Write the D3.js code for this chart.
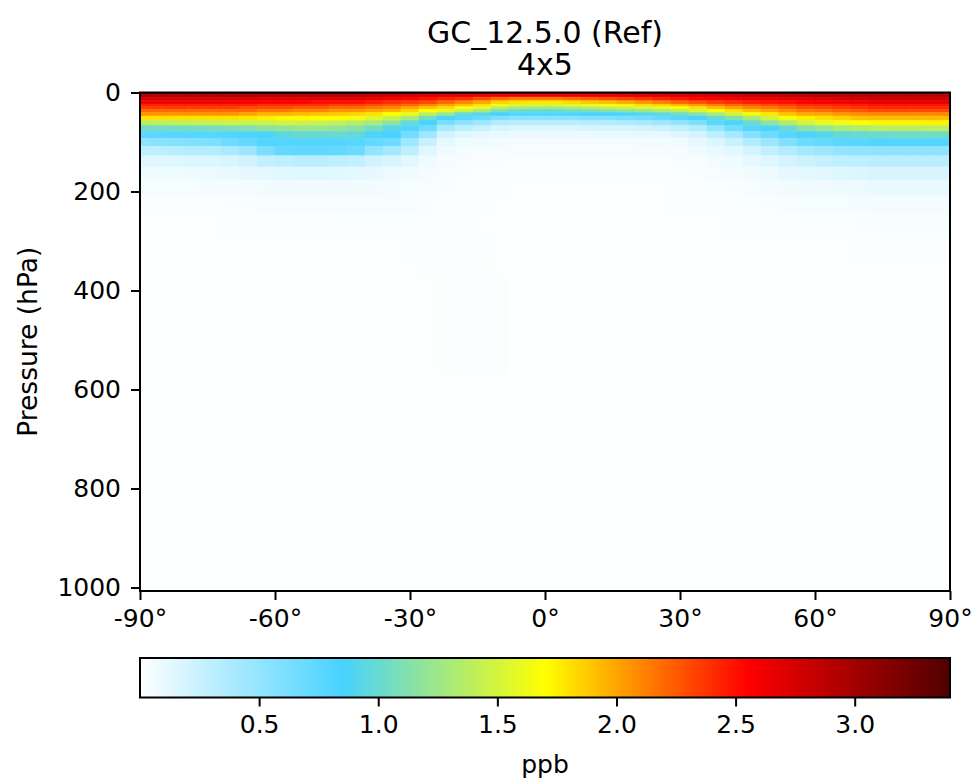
<!DOCTYPE html>
<html lang="en">
<head>
<meta charset="UTF-8" />
<title>GC_12.5.0 (Ref) zonal mean</title>
<script src="https://cdn.jsdelivr.net/npm/d3@7"></script>
<style>
    body { margin: 0; background: #fff; }
    text { font-family: "DejaVu Sans", sans-serif; fill: #000; }
    .tick text { font-size: 25px; }
    .tick line { stroke: #000; stroke-width: 2px; }
</style>
</head>
<body>
<svg id="chart" width="976" height="783"></svg>
<script>
// latitude cell edges of the 4x5 grid (half boxes at the poles)
const latEdges = [-90, -88, -84, -80, -76, -72, -68, -64, -60, -56, -52, -48, -44, -40, -36, -32, -28, -24,
    -20, -16, -12, -8, -4, 0, 4, 8, 12, 16, 20, 24, 28, 32, 36, 40, 44, 48, 52, 56, 60, 64, 68, 72, 76, 80,
    84, 88, 90];

// pressure edges of the drawn levels (hPa, top to bottom)
const presEdges = [0, 4, 9.3, 16.5, 23.7, 28.4, 33.8, 40.2, 47.6, 56.4, 66.6, 78.5, 92.4, 108.7, 127.8,
    150.4, 176.9, 208.2, 244.9, 288.9, 339.0, 377.1, 567.7, 682.2, 707.7, 733.2, 1007];

// zonal mean concentration (ppb), one profile per latitude cell, top level first
const zonalMean = [
    [3.25, 2.95, 2.75, 2.6, 2.45, 2.35, 2.2, 2.05, 1.8, 1.38, 1.03, 0.75, 0.52, 0.3, 0.15, 0.08, 0.045, 0.025, 0.015, 0.01, 0.008, 0.006, 0.005, 0.005, 0.005, 0.004], // -89
    [3.25, 2.95, 2.75, 2.6, 2.45, 2.35, 2.2, 2.05, 1.8, 1.4, 1.05, 0.76, 0.54, 0.31, 0.15, 0.08, 0.045, 0.025, 0.015, 0.01, 0.008, 0.006, 0.005, 0.005, 0.005, 0.004], // -86
    [3.25, 2.95, 2.75, 2.6, 2.45, 2.35, 2.2, 2.05, 1.8, 1.42, 1.05, 0.77, 0.56, 0.33, 0.16, 0.08, 0.045, 0.025, 0.015, 0.01, 0.008, 0.006, 0.005, 0.005, 0.005, 0.004], // -82
    [3.25, 2.95, 2.75, 2.6, 2.45, 2.35, 2.2, 2.05, 1.8, 1.42, 1.06, 0.78, 0.58, 0.35, 0.17, 0.085, 0.045, 0.025, 0.015, 0.01, 0.008, 0.006, 0.005, 0.005, 0.005, 0.004], // -78
    [3.25, 2.95, 2.75, 2.6, 2.45, 2.35, 2.2, 2.05, 1.8, 1.43, 1.08, 0.78, 0.6, 0.36, 0.17, 0.09, 0.05, 0.025, 0.015, 0.01, 0.008, 0.006, 0.005, 0.005, 0.005, 0.004], // -74
    [3.2, 2.95, 2.75, 2.6, 2.45, 2.35, 2.2, 2.05, 1.8, 1.45, 1.1, 0.8, 0.68, 0.4, 0.19, 0.1, 0.05, 0.03, 0.018, 0.012, 0.009, 0.006, 0.005, 0.005, 0.005, 0.004], // -70
    [3.2, 2.95, 2.75, 2.55, 2.45, 2.3, 2.2, 2.0, 1.78, 1.45, 1.12, 0.82, 0.72, 0.46, 0.22, 0.11, 0.055, 0.03, 0.018, 0.012, 0.009, 0.006, 0.005, 0.005, 0.005, 0.004], // -66
    [3.2, 2.9, 2.7, 2.55, 2.4, 2.3, 2.15, 1.95, 1.75, 1.45, 1.18, 0.88, 0.8, 0.62, 0.28, 0.13, 0.065, 0.035, 0.018, 0.012, 0.009, 0.006, 0.005, 0.005, 0.005, 0.004], // -62
    [3.2, 2.9, 2.7, 2.55, 2.4, 2.3, 2.15, 1.95, 1.72, 1.48, 1.2, 0.95, 0.8, 0.72, 0.3, 0.14, 0.07, 0.035, 0.018, 0.012, 0.009, 0.006, 0.005, 0.005, 0.005, 0.004], // -58
    [3.2, 2.9, 2.7, 2.55, 2.4, 2.25, 2.1, 1.92, 1.72, 1.48, 1.22, 1.0, 0.8, 0.74, 0.32, 0.15, 0.07, 0.035, 0.018, 0.012, 0.009, 0.006, 0.005, 0.005, 0.005, 0.004], // -54
    [3.2, 2.9, 2.7, 2.5, 2.4, 2.25, 2.1, 1.9, 1.7, 1.45, 1.22, 1.0, 0.8, 0.74, 0.32, 0.15, 0.07, 0.035, 0.018, 0.012, 0.009, 0.006, 0.005, 0.005, 0.005, 0.004], // -50
    [3.2, 2.9, 2.7, 2.5, 2.35, 2.2, 2.05, 1.88, 1.7, 1.42, 1.2, 1.0, 0.8, 0.72, 0.3, 0.14, 0.07, 0.045, 0.018, 0.012, 0.009, 0.006, 0.005, 0.005, 0.005, 0.004], // -46
    [3.2, 2.9, 2.7, 2.5, 2.35, 2.2, 2.05, 1.85, 1.65, 1.38, 1.15, 0.98, 0.78, 0.68, 0.28, 0.13, 0.065, 0.045, 0.018, 0.012, 0.009, 0.006, 0.005, 0.005, 0.005, 0.004], // -42
    [3.15, 2.85, 2.65, 2.45, 2.3, 2.15, 2.0, 1.8, 1.55, 1.3, 1.05, 0.88, 0.72, 0.5, 0.22, 0.11, 0.06, 0.045, 0.025, 0.013, 0.009, 0.006, 0.005, 0.005, 0.005, 0.004], // -38
    [3.15, 2.85, 2.6, 2.4, 2.25, 2.1, 1.95, 1.7, 1.45, 1.18, 0.92, 0.85, 0.68, 0.42, 0.18, 0.09, 0.055, 0.045, 0.025, 0.014, 0.01, 0.006, 0.005, 0.005, 0.005, 0.004], // -34
    [3.15, 2.8, 2.55, 2.35, 2.2, 2.0, 1.85, 1.6, 1.3, 1.0, 0.8, 0.65, 0.45, 0.3, 0.14, 0.07, 0.045, 0.04, 0.025, 0.022, 0.012, 0.006, 0.005, 0.005, 0.005, 0.004], // -30
    [3.1, 2.75, 2.5, 2.3, 2.1, 1.9, 1.7, 1.4, 1.05, 0.85, 0.68, 0.45, 0.27, 0.15, 0.08, 0.05, 0.035, 0.03, 0.025, 0.022, 0.02, 0.007, 0.005, 0.005, 0.005, 0.004], // -26
    [3.1, 2.7, 2.45, 2.2, 2.0, 1.82, 1.6, 1.25, 0.85, 0.62, 0.4, 0.22, 0.12, 0.07, 0.05, 0.035, 0.03, 0.025, 0.025, 0.022, 0.02, 0.018, 0.007, 0.005, 0.005, 0.004], // -22
    [3.05, 2.7, 2.4, 2.1, 1.9, 1.7, 1.45, 1.0, 0.78, 0.52, 0.3, 0.15, 0.08, 0.05, 0.035, 0.03, 0.025, 0.02, 0.025, 0.022, 0.02, 0.018, 0.016, 0.006, 0.005, 0.004], // -18
    [3.05, 2.65, 2.3, 2.0, 1.8, 1.6, 1.3, 0.95, 0.7, 0.45, 0.25, 0.12, 0.07, 0.045, 0.03, 0.025, 0.02, 0.02, 0.014, 0.022, 0.02, 0.018, 0.016, 0.014, 0.005, 0.004], // -14
    [3.0, 2.6, 2.2, 1.85, 1.65, 1.4, 1.1, 0.85, 0.6, 0.36, 0.19, 0.1, 0.06, 0.04, 0.03, 0.022, 0.018, 0.015, 0.012, 0.01, 0.009, 0.018, 0.016, 0.014, 0.005, 0.004], // -10
    [3.0, 2.6, 2.15, 1.8, 1.55, 1.3, 1.02, 0.8, 0.55, 0.33, 0.17, 0.09, 0.055, 0.038, 0.028, 0.02, 0.016, 0.014, 0.01, 0.009, 0.007, 0.006, 0.005, 0.005, 0.005, 0.004], // -6
    [3.0, 2.6, 2.15, 1.78, 1.52, 1.28, 1.0, 0.8, 0.55, 0.32, 0.17, 0.09, 0.055, 0.035, 0.025, 0.02, 0.015, 0.012, 0.01, 0.009, 0.007, 0.006, 0.005, 0.005, 0.005, 0.004], // -2
    [3.0, 2.6, 2.15, 1.78, 1.52, 1.28, 1.0, 0.8, 0.55, 0.32, 0.17, 0.09, 0.05, 0.035, 0.025, 0.02, 0.015, 0.012, 0.01, 0.009, 0.007, 0.006, 0.005, 0.005, 0.005, 0.004], // 2
    [3.0, 2.6, 2.2, 1.82, 1.58, 1.32, 1.05, 0.82, 0.55, 0.32, 0.17, 0.09, 0.05, 0.035, 0.025, 0.018, 0.014, 0.012, 0.01, 0.009, 0.007, 0.006, 0.005, 0.005, 0.005, 0.004], // 6
    [3.0, 2.62, 2.25, 1.88, 1.62, 1.38, 1.1, 0.84, 0.58, 0.34, 0.18, 0.09, 0.05, 0.035, 0.025, 0.018, 0.014, 0.012, 0.01, 0.009, 0.007, 0.006, 0.005, 0.005, 0.005, 0.004], // 10
    [3.0, 2.65, 2.3, 1.92, 1.68, 1.42, 1.15, 0.85, 0.6, 0.35, 0.19, 0.1, 0.055, 0.035, 0.025, 0.018, 0.014, 0.012, 0.01, 0.009, 0.007, 0.006, 0.005, 0.005, 0.005, 0.004], // 14
    [3.05, 2.68, 2.35, 1.98, 1.72, 1.48, 1.2, 0.88, 0.62, 0.37, 0.2, 0.1, 0.055, 0.035, 0.025, 0.018, 0.014, 0.012, 0.01, 0.009, 0.007, 0.006, 0.005, 0.005, 0.005, 0.004], // 18
    [3.05, 2.7, 2.4, 2.05, 1.8, 1.55, 1.25, 0.92, 0.66, 0.4, 0.22, 0.11, 0.06, 0.035, 0.025, 0.018, 0.015, 0.013, 0.011, 0.01, 0.009, 0.016, 0.01, 0.005, 0.005, 0.004], // 22
    [3.05, 2.72, 2.45, 2.12, 1.85, 1.62, 1.32, 0.98, 0.72, 0.45, 0.24, 0.12, 0.065, 0.04, 0.028, 0.02, 0.016, 0.014, 0.012, 0.01, 0.009, 0.016, 0.015, 0.014, 0.005, 0.004], // 26
    [3.1, 2.75, 2.5, 2.2, 1.94, 1.7, 1.4, 1.05, 0.8, 0.5, 0.29, 0.15, 0.08, 0.05, 0.035, 0.026, 0.021, 0.018, 0.014, 0.011, 0.009, 0.016, 0.015, 0.014, 0.012, 0.004], // 30
    [3.1, 2.78, 2.55, 2.28, 2.02, 1.8, 1.52, 1.15, 0.86, 0.6, 0.36, 0.2, 0.11, 0.068, 0.045, 0.032, 0.024, 0.019, 0.015, 0.011, 0.009, 0.016, 0.015, 0.014, 0.005, 0.004], // 34
    [3.1, 2.8, 2.6, 2.35, 2.12, 1.92, 1.66, 1.3, 0.98, 0.76, 0.5, 0.3, 0.17, 0.1, 0.06, 0.04, 0.028, 0.021, 0.016, 0.011, 0.009, 0.016, 0.01, 0.005, 0.005, 0.004], // 38
    [3.15, 2.82, 2.62, 2.4, 2.2, 2.02, 1.8, 1.48, 1.12, 0.88, 0.66, 0.42, 0.25, 0.14, 0.08, 0.05, 0.032, 0.023, 0.017, 0.011, 0.008, 0.007, 0.005, 0.005, 0.005, 0.004], // 42
    [3.15, 2.85, 2.65, 2.45, 2.25, 2.1, 1.92, 1.65, 1.3, 1.02, 0.8, 0.56, 0.36, 0.2, 0.11, 0.065, 0.04, 0.026, 0.018, 0.011, 0.008, 0.007, 0.005, 0.005, 0.005, 0.004], // 46
    [3.15, 2.85, 2.65, 2.48, 2.3, 2.15, 2.0, 1.78, 1.48, 1.18, 0.88, 0.68, 0.46, 0.28, 0.15, 0.085, 0.048, 0.03, 0.02, 0.012, 0.008, 0.007, 0.005, 0.005, 0.005, 0.004], // 50
    [3.15, 2.88, 2.68, 2.5, 2.35, 2.22, 2.08, 1.9, 1.65, 1.35, 1.0, 0.78, 0.58, 0.36, 0.2, 0.11, 0.06, 0.035, 0.022, 0.013, 0.008, 0.007, 0.005, 0.005, 0.005, 0.004], // 54
    [3.15, 2.88, 2.7, 2.55, 2.4, 2.3, 2.15, 1.98, 1.75, 1.5, 1.15, 0.88, 0.68, 0.42, 0.24, 0.13, 0.07, 0.04, 0.025, 0.014, 0.009, 0.007, 0.005, 0.005, 0.005, 0.004], // 58
    [3.15, 2.9, 2.72, 2.58, 2.42, 2.32, 2.18, 2.0, 1.8, 1.58, 1.22, 0.92, 0.72, 0.46, 0.27, 0.14, 0.075, 0.042, 0.026, 0.015, 0.009, 0.007, 0.005, 0.005, 0.005, 0.004], // 62
    [3.15, 2.9, 2.75, 2.6, 2.45, 2.35, 2.22, 2.05, 1.85, 1.65, 1.3, 0.98, 0.76, 0.5, 0.3, 0.16, 0.085, 0.046, 0.028, 0.016, 0.01, 0.007, 0.005, 0.005, 0.005, 0.004], // 66
    [3.15, 2.9, 2.78, 2.62, 2.48, 2.38, 2.26, 2.08, 1.9, 1.7, 1.34, 1.0, 0.78, 0.51, 0.31, 0.17, 0.09, 0.05, 0.03, 0.017, 0.01, 0.007, 0.005, 0.005, 0.005, 0.004], // 70
    [3.15, 2.9, 2.8, 2.65, 2.5, 2.42, 2.3, 2.1, 1.92, 1.72, 1.37, 1.02, 0.8, 0.52, 0.32, 0.18, 0.1, 0.055, 0.032, 0.018, 0.01, 0.007, 0.005, 0.005, 0.005, 0.004], // 74
    [3.15, 2.9, 2.8, 2.65, 2.5, 2.42, 2.3, 2.1, 1.92, 1.73, 1.38, 1.03, 0.8, 0.52, 0.32, 0.18, 0.1, 0.055, 0.032, 0.018, 0.01, 0.007, 0.005, 0.005, 0.005, 0.004], // 78
    [3.15, 2.9, 2.8, 2.65, 2.5, 2.42, 2.3, 2.1, 1.93, 1.73, 1.38, 1.03, 0.8, 0.52, 0.32, 0.18, 0.1, 0.055, 0.032, 0.018, 0.01, 0.007, 0.005, 0.005, 0.005, 0.004], // 82
    [3.15, 2.9, 2.8, 2.65, 2.5, 2.42, 2.3, 2.1, 1.93, 1.74, 1.39, 1.04, 0.8, 0.52, 0.32, 0.18, 0.1, 0.055, 0.032, 0.018, 0.01, 0.007, 0.005, 0.005, 0.005, 0.004], // 86
    [3.15, 2.9, 2.8, 2.65, 2.5, 2.42, 2.3, 2.1, 1.93, 1.74, 1.39, 1.04, 0.8, 0.52, 0.32, 0.18, 0.1, 0.055, 0.032, 0.018, 0.01, 0.007, 0.005, 0.005, 0.005, 0.004]  // 89
];

const xTicks = [-90, -60, -30, 0, 30, 60, 90];
const yTicks = [0, 200, 400, 600, 800, 1000];
const cbarTicks = [0.5, 1.0, 1.5, 2.0, 2.5, 3.0];
const cmapColors = ["#ffffff", "#48d2ff", "#ffff00", "#ff0000", "#500000"];
const vmin = 0, vmax = 3.4;

const svg = d3.select("#chart");
const plotLeft = 140, plotRight = 950, plotTop = 92.5, plotBottom = 591;

const x = d3.scaleLinear().domain([-90, 90]).range([plotLeft, plotRight]);
const y = d3.scaleLinear().domain([0, 1007]).range([plotTop, plotBottom]);
const color = d3.scaleLinear()
    .domain(cmapColors.map((c, i) => vmin + (vmax - vmin) * i / (cmapColors.length - 1)))
    .range(cmapColors)
    .clamp(true);

// cells
const cells = [];
zonalMean.forEach((col, i) => {
    col.forEach((v, k) => {
        cells.push({ lat0: latEdges[i], lat1: latEdges[i + 1], p0: presEdges[k], p1: presEdges[k + 1], v });
    });
});

svg.append("g")
    .selectAll("rect")
    .data(cells)
    .enter()
    .append("rect")
    .attr("x", d => x(d.lat0))
    .attr("y", d => y(d.p0))
    .attr("width", d => x(d.lat1) - x(d.lat0))
    .attr("height", d => y(d.p1) - y(d.p0))
    .attr("fill", d => color(d.v))
    .attr("stroke", d => color(d.v))
    .attr("stroke-width", 0.5);

// axes
const yAxis = svg.append("g")
    .attr("transform", "translate(" + plotLeft + ",0)")
    .call(d3.axisLeft(y).tickValues(yTicks).tickSize(9).tickPadding(10).tickFormat(d3.format("d")));
yAxis.select(".domain").remove();

const xAxis = svg.append("g")
    .attr("transform", "translate(0," + plotBottom + ")")
    .call(d3.axisBottom(x).tickValues(xTicks).tickSize(9).tickPadding(9).tickFormat(d => d + "°"));
xAxis.select(".domain").remove();

// frame
svg.append("rect")
    .attr("x", plotLeft).attr("y", plotTop)
    .attr("width", plotRight - plotLeft).attr("height", plotBottom - plotTop)
    .attr("fill", "none").attr("stroke", "#000").attr("stroke-width", 2);

// titles
svg.append("text").attr("x", 545).attr("y", 43).attr("text-anchor", "middle")
    .style("font-size", "30px").text("GC_12.5.0 (Ref)");
svg.append("text").attr("x", 545).attr("y", 75).attr("text-anchor", "middle")
    .style("font-size", "30px").text("4x5");

svg.append("text")
    .attr("transform", "translate(37," + ((plotTop + plotBottom) / 2) + ") rotate(-90)")
    .attr("text-anchor", "middle")
    .style("font-size", "26.5px")
    .text("Pressure (hPa)");

// colorbar
const cbTop = 658, cbBottom = 697.5;
const cb = d3.scaleLinear().domain([vmin, vmax]).range([plotLeft, plotRight]);

const grad = svg.append("defs").append("linearGradient")
    .attr("id", "cmap").attr("x1", "0%").attr("x2", "100%").attr("y1", "0%").attr("y2", "0%");
grad.selectAll("stop")
    .data(cmapColors)
    .enter()
    .append("stop")
    .attr("offset", (d, i) => (100 * i / (cmapColors.length - 1)) + "%")
    .attr("stop-color", d => d);

svg.append("rect")
    .attr("x", plotLeft).attr("y", cbTop)
    .attr("width", plotRight - plotLeft).attr("height", cbBottom - cbTop)
    .attr("fill", "url(#cmap)")
    .attr("stroke", "#000").attr("stroke-width", 2);

const cbAxis = svg.append("g")
    .attr("transform", "translate(0," + cbBottom + ")")
    .call(d3.axisBottom(cb).tickValues(cbarTicks).tickSize(9).tickPadding(9).tickFormat(d3.format(".1f")));
cbAxis.select(".domain").remove();

svg.append("text").attr("x", 545).attr("y", 773).attr("text-anchor", "middle")
    .style("font-size", "25px").text("ppb");
</script>
</body>
</html>
